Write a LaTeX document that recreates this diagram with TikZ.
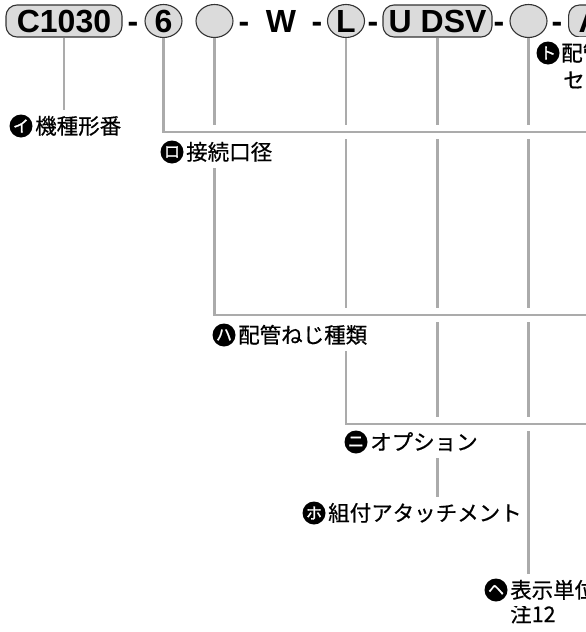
\documentclass[tikz,border=0pt]{standalone}
\usepackage{fontspec}
\setmainfont{Liberation Sans}
\newfontfamily\jp[FakeBold=0.5]{Noto Sans CJK JP}
\newfontfamily\jpicon[FakeBold=1.5]{Noto Sans CJK JP}
\usetikzlibrary{shapes.geometric}
\begin{document}
\begin{tikzpicture}[x=1pt,y=-1pt,
  codefont/.style={font=\fontsize{32}{32}\selectfont\bfseries, text height=23pt, text depth=0pt},
  codebox/.style={codefont, draw=black!80, line width=1.1pt, fill=black!14, rounded corners=11pt,
    minimum height=32pt, inner xsep=0pt, inner ysep=0pt},
  codecirc/.style={codefont, ellipse, draw=black!80, line width=1.1pt, fill=black!14,
    minimum width=37pt, minimum height=33pt, inner sep=0pt},
  sepmark/.style={codefont, inner sep=0pt},
  conn/.style={draw=black!33, line width=2.6pt},
  halo/.style={preaction={draw=white, line width=14pt}},
  lab/.style={fill=white, inner xsep=0pt, inner ysep=5pt, anchor=west,
    font=\jp\fontsize{21.5}{21.5}\selectfont, text height=19pt, text depth=3pt},
  icon/.style={circle, fill=black, text=white, minimum size=23pt, inner sep=0pt,
    font=\jpicon\fontsize{16}{16}\selectfont},
]
\useasboundingbox (0,0) rectangle (586,632);
\clip (0,0) rectangle (586,632);

% code row
\node[codebox, minimum width=116pt] (c1030) at (64,21) {C1030};
\node[sepmark] (d1) at (133,21) {-};
\node[codecirc] (six) at (163.5,21) {6};
\node[codecirc] (circA) at (214.5,21) {};
\node[sepmark] (d2) at (244,21) {-};
\node[sepmark] (w) at (281,21) {W};
\node[sepmark] (d3) at (317,21) {-};
\node[codecirc] (cL) at (346,21) {L};
\node[sepmark] (d4) at (373,21) {-};
\node[codebox, minimum width=109pt] (udsv) at (437.5,21) {U\kern9pt DSV};
\node[sepmark] (d5) at (499,21) {-};
\node[codecirc] (circB) at (528.5,21) {};
\node[sepmark] (d6) at (557,21) {-};
\node[codebox, anchor=west, inner xsep=10pt, text width=50pt, align=left] (cA) at (568,21) {A};

% labels
\node[lab] (lI) at (35,126) {機種形番};
\node[lab] (lRo) at (186,152) {接続口径};
\node[lab] (lHa) at (238,335) {配管ねじ種類};
\node[lab] (lNi) at (370,442) {オプション};
\node[lab] (lHo) at (328,513) {組付アタッチメント};
\node[lab] (lHe) at (510,590) {表示単位};
\node[lab] (note) at (510,614) {注12};
\node[lab] (lTo) at (561,53) {配管};
\node[lab] (lTo2) at (563,80) {セッ};

% right-edge ends
\coordinate (rL) at (600,424);
\coordinate (rA) at (600,315);
\coordinate (r6) at (600,132);

% connectors
\draw[conn] (c1030.south) -- (c1030.south |- lI.north);
\draw[conn] (udsv.south) -- (udsv.south |- lHo.north);
\draw[conn] (circB.south) -- (circB.south |- lHe.north);
\draw[conn,halo] (cL.south) |- (rL);
\draw[conn,halo] (circA.south) |- (rA);
\draw[conn,halo] (six.south) |- (r6);

% labels redrawn on top (white fill hides passing lines)
\node[lab] at (lI.west) {機種形番};
\node[lab] at (lRo.west) {接続口径};
\node[lab] at (lHa.west) {配管ねじ種類};
\node[lab] at (lNi.west) {オプション};
\node[lab] at (lHo.west) {組付アタッチメント};
\node[lab] at (lHe.west) {表示単位};

% icons
\node[icon] (iI) at ([xshift=-14pt]lI.west) {イ};
\node[icon] (iRo) at ([xshift=-14pt]lRo.west) {ロ};
\node[icon] (iHa) at ([xshift=-14pt]lHa.west) {ハ};
\node[icon] (iNi) at ([xshift=-14pt]lNi.west) {ニ};
\node[icon] (iHo) at ([xshift=-14pt]lHo.west) {ホ};
\node[icon] (iHe) at ([xshift=-14pt]lHe.west) {ヘ};
\node[icon] (iTo) at ([xshift=-13pt]lTo.west) {ト};
\end{tikzpicture}
\end{document}
